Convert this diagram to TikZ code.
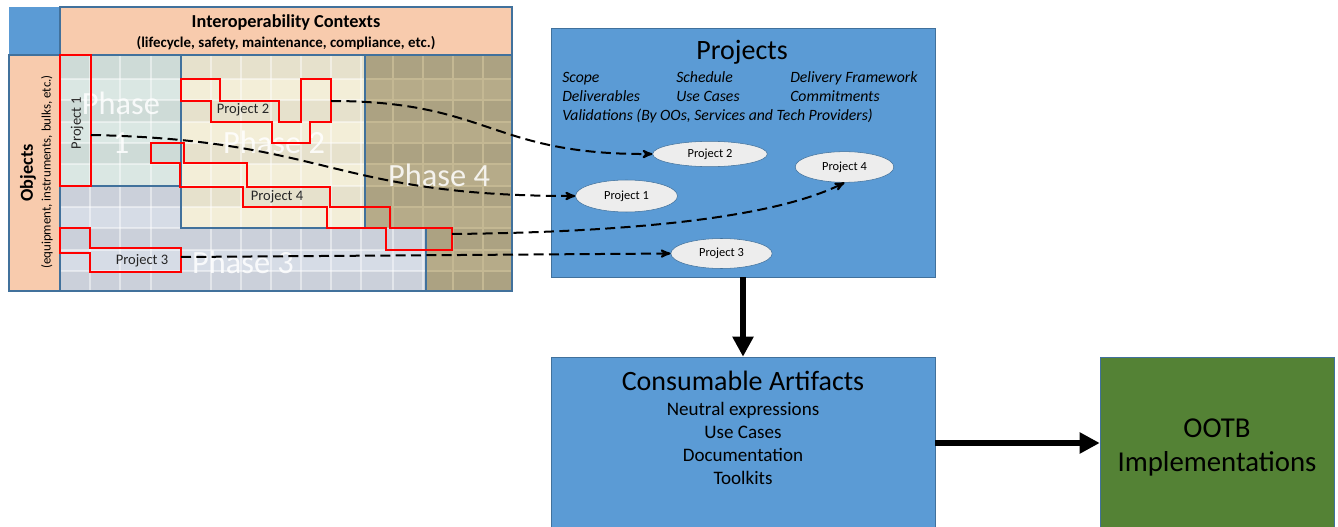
\documentclass[tikz,border=0pt]{standalone}
\usepackage{fontspec}
\setmainfont{Carlito}
\usetikzlibrary{arrows,arrows.meta,shapes.geometric,positioning}

\definecolor{boxblue}{HTML}{5B9BD5}
\definecolor{edgeblue}{HTML}{41719C}
\definecolor{peach}{HTML}{F8CBAD}
\definecolor{ootbgreen}{HTML}{548235}
\definecolor{phaseone}{HTML}{DAE7E3}
\definecolor{phasetwo}{HTML}{F3EED8}
\definecolor{phasethree}{HTML}{D6DCE6}
\definecolor{phasefour}{HTML}{B6AB89}
\definecolor{phasefourline}{HTML}{C4B893}
\definecolor{ovalgray}{HTML}{EDEDED}

\tikzset{
    bigbox/.style={
           rectangle,
           draw=edgeblue, thin,
           fill=boxblue,
           inner sep=0pt,
           text centered,
           },
    oval/.style={ellipse, draw=edgeblue, thin, fill=ovalgray, inner sep=0pt,
                 font=\fontsize{9.3}{11}\selectfont},
    projline/.style={draw=red, line width=1.7pt},
    projlabel/.style={font=\fontsize{10.9}{13}\selectfont, text=black!85},
    phaselabel/.style={font=\fontsize{24.3}{29}\selectfont, text=white, text opacity=0.85},
    gridline/.style={white, opacity=0.45, line width=1.2pt},
    phaseedge/.style={draw=edgeblue, line width=1.1pt},
    itemtext/.style={anchor=base west, inner sep=0pt, font=\itshape\fontsize{11.8}{13}\selectfont},
    flow/.style={->, >=stealth', line width=1.5pt, dash pattern=on 7.5pt off 4pt},
    bigarrow/.style={-{Triangle[length=15pt,width=15pt]}, line width=5.2pt},
}

\begin{document}
\begin{tikzpicture}[x=0.75pt,y=-0.75pt]
  \useasboundingbox (0,0) rectangle (1338,527);

  % headers of the matrix
  \fill[boxblue] (9,7) rectangle (60,55);
  \draw[phaseedge, fill=peach] (60,7) rectangle (512,55);
  \draw[phaseedge, fill=peach] (9,55) rectangle (60,291);
  \node[font=\bfseries\fontsize{13.7}{16}\selectfont] (ctxtitle) at (286,23) {Interoperability Contexts};
  \node[font=\bfseries\fontsize{11.2}{13}\selectfont] (ctxsub) at (286,43) {(lifecycle, safety, maintenance, compliance, etc.)};
  \node[rotate=90, font=\bfseries\fontsize{13.7}{16}\selectfont] (objtitle) at (28,173) {Objects};
  \node[rotate=90, font=\fontsize{9.7}{12}\selectfont] (objsub) at (47,172) {(equipment, instruments, bulks, etc.)};

  % phases
  \fill[phaseone] (60,55) rectangle (181,186);
  \fill[phasetwo] (181,55) rectangle (365,228);
  \fill[phasethree] (60,186) -- (181,186) -- (181,228) -- (426,228) -- (426,291) -- (60,291) -- cycle;
  \fill[phasefour] (365,55) -- (512,55) -- (512,291) -- (426,291) -- (426,228) -- (365,228) -- cycle;
  \foreach \ya/\yb in {55/79,100/122,143/164,186/207,228/250,271/291}
    \fill[black, opacity=0.05] (60,\ya) rectangle (512,\yb);
  \foreach \yy in {79,100,122,143,164,186,207,228,250,271}
    \draw[gridline] (60,\yy) -- (512,\yy);
  \foreach \xx in {90,120,151,211,241,271,301,331,361,393,423,453,483}
    \draw[gridline] (\xx,55) -- (\xx,291);
  \begin{scope}
    \clip (365,55) -- (512,55) -- (512,291) -- (426,291) -- (426,228) -- (365,228) -- cycle;
    \foreach \yy in {79,100,122,143,164,186,207,228,250,271}
      \draw[phasefourline, line width=1.2pt] (365,\yy) -- (512,\yy);
    \foreach \xx in {393,423,453,483}
      \draw[phasefourline, line width=1.2pt] (\xx,55) -- (\xx,291);
  \end{scope}
  \draw[phaseedge] (60,55) rectangle (181,186);
  \draw[phaseedge] (181,55) rectangle (365,228);
  \draw[phaseedge] (426,228) -- (426,291);
  \draw[phaseedge] (60,55) rectangle (512,291);

  \node[phaselabel, align=center] (ph1) at (121,123) {Phase\\1};
  \node[phaselabel] (ph2) at (274,142) {Phase 2};
  \node[phaselabel] (ph3) at (243,262) {Phase 3};
  \node[phaselabel] (ph4) at (439,175) {Phase 4};

  % project footprints
  \draw[projline] (60,55) rectangle (91,186);
  \draw[projline] (181,79) -- (220,79) -- (220,101) -- (279,101) -- (279,122) -- (301,122) -- (301,79)
        -- (331,79) -- (331,122) -- (310,122) -- (310,143) -- (272,143) -- (272,122) -- (211,122)
        -- (211,101) -- (181,101) -- cycle;
  \draw[projline] (151,143) -- (184,143) -- (184,163) -- (247,163) -- (247,187) -- (330,187) -- (330,207)
        -- (390,207) -- (390,228) -- (452,228) -- (452,250) -- (386,250) -- (386,228) -- (327,228)
        -- (327,207) -- (243,207) -- (243,187) -- (180,187) -- (180,163) -- (151,163) -- cycle;
  \draw[projline] (60,228) -- (90,228) -- (90,248) -- (181,248) -- (181,272) -- (90,272) -- (90,253)
        -- (60,253) -- cycle;
  \node[projlabel, rotate=90] (p1lab) at (77,123) {Project 1};
  \node[projlabel] (p2lab) at (243,110) {Project 2};
  \node[projlabel] (p4lab) at (277,197) {Project 4};
  \node[projlabel] (p3lab) at (142,261) {Project 3};
  \coordinate (p1out) at (91,135);
  \coordinate (p2out) at (331,101);
  \coordinate (p3out) at (181,257);
  \coordinate (p4out) at (452,234);

  % projects
  \node[bigbox, minimum width=288pt, minimum height=186.75pt] (projects) at (743,152.5) {};
  \node[font=\fontsize{21}{25}\selectfont] (projtitle) at (742,52) {Projects};
  \node[itemtext] (scope) at (562,83) {Scope};
  \node[itemtext] (sched) at (676,83) {Schedule};
  \node[itemtext] (deliv) at (790,83) {Delivery Framework};
  \node[itemtext] (dlvbl) at (562,102) {Deliverables};
  \node[itemtext] (usec) at (676,102) {Use Cases};
  \node[itemtext] (commit) at (790,102) {Commitments};
  \node[itemtext] (valid) at (562,121) {Validations (By OOs, Services and Tech Providers)};

  \node[oval, minimum width=86pt, minimum height=19pt] (p2e) at (710,154) {Project 2};
  \node[oval, minimum width=76.5pt, minimum height=24pt] (p1e) at (626.5,196) {Project 1};
  \node[oval, minimum width=74pt, minimum height=23pt] (p4e) at (844.5,167) {Project 4};
  \node[oval, minimum width=76pt, minimum height=22.5pt] (p3e) at (721.5,253.5) {Project 3};

  \draw[flow] (p1out) .. controls (330,140) and (330,196) .. (p1e.west);
  \draw[flow] (p2out) .. controls (490,101) and (490,155) .. (p2e.west);
  \draw[flow] (p3out) -- (p3e.west);
  \draw[flow] (p4out) .. controls (650,232) and (780,215) .. (p4e.south);

  % artifacts and implementations
  \node[bigbox, minimum width=288pt, minimum height=129pt] (artifacts) at (743,443) {};
  \node[font=\fontsize{21}{25}\selectfont] (arttitle) at (743,381) {Consumable Artifacts};
  \node[align=center, font=\fontsize{14.3}{17.25}\selectfont] (artitems) at (743,443)
        {Neutral expressions\\Use Cases\\Documentation\\Toolkits};
  \node[bigbox, fill=ootbgreen, minimum width=175.5pt, minimum height=129pt] (ootb) at (1217,443) {};
  \node[align=center, font=\fontsize{21.6}{25.5}\selectfont] (ootbtext) at (1217,447) {OOTB\\Implementations};

  \draw[bigarrow] (projects.south) -- (artifacts.north);
  \draw[bigarrow] (artifacts.east) -- (ootb.west);
\end{tikzpicture}
\end{document}
